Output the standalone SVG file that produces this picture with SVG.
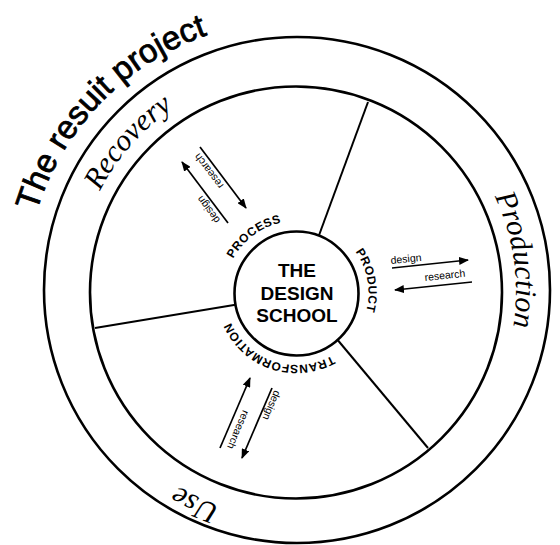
<svg xmlns="http://www.w3.org/2000/svg" width="560" height="545" viewBox="0 0 560 545">
  <style>
    .ring { fill: none; stroke: #000; stroke-width: 2.6; }
    .spoke { stroke: #000; stroke-width: 2; }
    .arrow { stroke: #000; stroke-width: 1.7; marker-end: url(#ah); }
    .title { font-family: "Liberation Sans", Arial, sans-serif; font-size: 33px; fill: #000; stroke: #000; stroke-width: 0.8; }
    .phase { font-family: "Liberation Serif", "Times New Roman", serif; font-style: italic; font-size: 30px; fill: #000; }
    .hub { font-family: "Liberation Sans", Arial, sans-serif; font-weight: bold; font-size: 12px; letter-spacing: 0.5px; fill: #000; }
    .center { font-family: "Liberation Sans", Arial, sans-serif; font-weight: bold; font-size: 19px; fill: #000; text-anchor: middle; }
    .small { font-family: "Liberation Sans", Arial, sans-serif; font-size: 10.5px; fill: #000; }
  </style>
  <defs>
    <marker id="ah" markerWidth="10" markerHeight="8" refX="9" refY="4" orient="auto" markerUnits="userSpaceOnUse">
      <path d="M0,0 L10,4 L0,8 z" fill="#000"/>
    </marker>
    <!-- baselines for curved labels -->
    <path id="arcTitle" d="M36.84,211.77 A271,271 0 0 1 431.5,56.3"/>
    <path id="arcRecovery" d="M99.98,191.12 A220,220 0 0 1 406,100.47"/>
    <path id="arcProduction" d="M494.57,196.29 A220,220 0 0 1 406,481.53"/>
    <path id="arcUse" d="M219.89,505.92 A228,228 0 0 1 81.75,213.02"/>
    <path id="arcProcess" d="M233.17,258.76 A72,72 0 0 1 309,222.09"/>
    <path id="arcProduct" d="M355.48,251.70 A72,72 0 0 1 358.85,329"/>
    <path id="arcTransformation" d="M331.95,355.67 A72,72 0 0 1 224.77,299.28"/>
  </defs>

  <rect width="560" height="545" fill="#fff"/>

  <!-- outer and inner rings -->
  <g id="rings">
    <circle class="ring" cx="297" cy="290" r="253"/>
    <circle class="ring" cx="296" cy="292.5" r="206"/>
  </g>

  <!-- spokes dividing the inner disc -->
  <g id="spokes">
    <line class="spoke" x1="368" y1="102" x2="318" y2="238"/>
    <line class="spoke" x1="95" y1="328" x2="240" y2="304"/>
    <line class="spoke" x1="428" y1="448" x2="336" y2="338"/>
  </g>

  <!-- title around the outside -->
  <g id="title">
    <text class="title"><textPath href="#arcTitle">The resuit project</textPath></text>
  </g>

  <!-- phase labels in the ring -->
  <g id="recovery">
    <text class="phase"><textPath href="#arcRecovery">Recovery</textPath></text>
  </g>
  <g id="production">
    <text class="phase"><textPath href="#arcProduction">Production</textPath></text>
  </g>
  <g id="use">
    <text class="phase"><textPath href="#arcUse">Use</textPath></text>
  </g>

  <!-- hub -->
  <g id="design-school">
    <circle cx="296.5" cy="293.5" r="62" fill="#fff" stroke="#000" stroke-width="2.6"/>
    <text class="center" x="297" y="277">THE</text>
    <text class="center" x="297" y="300">DESIGN</text>
    <text class="center" x="297" y="322">SCHOOL</text>
  </g>

  <g id="process">
    <text class="hub"><textPath href="#arcProcess">PROCESS</textPath></text>
  </g>
  <g id="product">
    <text class="hub"><textPath href="#arcProduct">PRODUCT</textPath></text>
  </g>
  <g id="transformation">
    <text class="hub"><textPath href="#arcTransformation">TRANSFORMATION</textPath></text>
  </g>

  <!-- design / research flows -->
  <g id="connectors">
    <line class="arrow" x1="200" y1="147" x2="246" y2="208"/>
    <line class="arrow" x1="228" y1="223" x2="182" y2="162"/>
    <line class="arrow" x1="392" y1="268" x2="468" y2="260"/>
    <line class="arrow" x1="472" y1="282" x2="395" y2="290"/>
    <line class="arrow" x1="220" y1="448" x2="250" y2="378"/>
    <line class="arrow" x1="272" y1="388" x2="242" y2="458"/>
  </g>

  <g id="flow-labels">
    <text class="small" transform="translate(223.9,185.3) rotate(233)">research</text>
    <text class="small" transform="translate(220.6,219.9) rotate(233)">design</text>
    <text class="small" transform="translate(391,264) rotate(-6)">design</text>
    <text class="small" transform="translate(425,281) rotate(-6)">research</text>
    <text class="small" transform="translate(243.1,409.6) rotate(113.2)">research</text>
    <text class="small" transform="translate(274.6,389.7) rotate(113.2)">design</text>
  </g>
</svg>
